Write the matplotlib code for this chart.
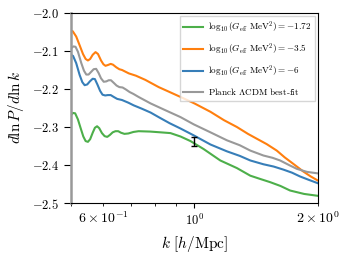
import numpy as np
import matplotlib
matplotlib.use("Agg")
import matplotlib.pyplot as plt

plt.rcParams['font.family'] = 'serif'
plt.rcParams['font.serif'] = ['cmr10']
plt.rcParams['mathtext.fontset'] = 'cm'
plt.rcParams['axes.formatter.use_mathtext'] = True

# ---------- data ----------
k_green = [0.5, 0.506, 0.512, 0.52, 0.528, 0.536, 0.543, 0.550, 0.557, 0.565, 0.572, 0.579,
           0.586, 0.595, 0.604, 0.613, 0.622, 0.632, 0.642, 0.652, 0.662, 0.675, 0.69, 0.71,
           0.731, 0.78, 0.827, 0.874, 0.925, 0.978, 1.053, 1.156, 1.269, 1.368, 1.45, 1.529,
           1.62, 1.71, 1.85, 2.0]
dlnp_green = [-2.269, -2.263, -2.264, -2.280, -2.303, -2.325, -2.337, -2.339, -2.332, -2.315, -2.302, -2.298,
              -2.303, -2.316, -2.324, -2.326, -2.321, -2.314, -2.311, -2.311, -2.315, -2.318, -2.317, -2.313,
              -2.311, -2.312, -2.314, -2.316, -2.325, -2.337, -2.358, -2.388, -2.408, -2.428, -2.437, -2.445,
              -2.455, -2.467, -2.476, -2.481]

k_orange = [0.5, 0.505, 0.515, 0.525, 0.535, 0.543, 0.550, 0.557, 0.565, 0.574, 0.582, 0.592,
            0.600, 0.607, 0.615, 0.625, 0.633, 0.645, 0.656, 0.666, 0.692, 0.72, 0.759, 0.818,
            0.87, 0.925, 1.0, 1.094, 1.18, 1.269, 1.35, 1.42, 1.5, 1.587, 1.66, 1.742, 1.842,
            1.92, 2.0]
dlnp_orange = [-2.047, -2.048, -2.062, -2.085, -2.108, -2.121, -2.125, -2.121, -2.110, -2.103, -2.108, -2.125,
               -2.135, -2.139, -2.137, -2.134, -2.136, -2.143, -2.148, -2.150, -2.159, -2.165, -2.176, -2.195,
               -2.208, -2.221, -2.238, -2.260, -2.282, -2.300, -2.318, -2.331, -2.345, -2.362, -2.380, -2.397,
               -2.417, -2.430, -2.441]

k_blue = [0.5, 0.506, 0.515, 0.525, 0.533, 0.540, 0.548, 0.556, 0.565, 0.572, 0.580, 0.589,
          0.597, 0.606, 0.615, 0.625, 0.636, 0.648, 0.666, 0.69, 0.711, 0.745, 0.782, 0.818,
          0.87, 0.925, 0.996, 1.094, 1.2, 1.29, 1.368, 1.473, 1.56, 1.647, 1.728, 1.808, 1.9, 2.0]
dlnp_blue = [-2.110, -2.113, -2.132, -2.163, -2.182, -2.190, -2.188, -2.180, -2.173, -2.174, -2.188, -2.205,
             -2.215, -2.217, -2.216, -2.216, -2.221, -2.226, -2.229, -2.236, -2.243, -2.252, -2.262, -2.274,
             -2.290, -2.304, -2.322, -2.346, -2.364, -2.376, -2.388, -2.398, -2.404, -2.412, -2.420, -2.430,
             -2.439, -2.448]

k_gray = [0.5, 0.507, 0.513, 0.52, 0.53, 0.538, 0.545, 0.552, 0.560, 0.568, 0.576, 0.584,
          0.592, 0.601, 0.610, 0.618, 0.626, 0.636, 0.646, 0.656, 0.668, 0.68, 0.695, 0.71,
          0.731, 0.782, 0.85, 0.925, 0.996, 1.094, 1.2, 1.29, 1.368, 1.473, 1.55, 1.617, 1.70,
          1.776, 1.88, 2.0]
dlnp_gray = [-2.093, -2.088, -2.089, -2.102, -2.132, -2.152, -2.162, -2.162, -2.155, -2.148, -2.147, -2.158,
             -2.172, -2.181, -2.180, -2.177, -2.177, -2.184, -2.191, -2.195, -2.196, -2.201, -2.208, -2.213,
             -2.221, -2.238, -2.256, -2.274, -2.293, -2.314, -2.335, -2.348, -2.362, -2.375, -2.381, -2.388,
             -2.400, -2.410, -2.418, -2.422]

k_data = [1.0]
dlnp_data = [-2.338]
dlnp_err = [0.012]

labels = [r'$\log_{10}(G_{\rm eff}\ {\rm MeV}^2) = -1.72$',
          r'$\log_{10}(G_{\rm eff}\ {\rm MeV}^2) = -3.5$',
          r'$\log_{10}(G_{\rm eff}\ {\rm MeV}^2) = -6$',
          r'Planck $\Lambda$CDM best-fit']

# ---------- plot ----------
fig = plt.figure(figsize=(3.46, 2.59), dpi=100)
ax = fig.add_axes([0.205, 0.216, 0.714, 0.734])

ax.plot(k_green, dlnp_green, color='#4daf4a', lw=1.5, label=labels[0])
ax.plot(k_orange, dlnp_orange, color='#ff7f0e', lw=1.5, label=labels[1])
ax.plot(k_blue, dlnp_blue, color='#377eb8', lw=1.5, label=labels[2])
ax.plot(k_gray, dlnp_gray, color='#999999', lw=1.5, label=labels[3])
ax.errorbar(k_data, dlnp_data, yerr=dlnp_err, fmt='none', ecolor='k', elinewidth=1, capsize=2)

ax.set_xscale('log')
ax.set_xlim(0.5, 2.0)
ax.set_ylim(-2.5, -2.0)
ax.set_yticks(np.arange(-2.5, -1.99, 0.1))
ax.spines['left'].set_color('#999999')
ax.spines['left'].set_linewidth(1.8)
ax.tick_params(labelsize=9, direction='out')
ax.tick_params(axis='y', length=5)
ax.set_xlabel(r'$k\ [h/{\rm Mpc}]$', fontsize=11)
ax.set_ylabel(r'$d\ln P/d\ln k$', fontsize=11)
ax.legend(loc='upper right', fontsize=6.6, fancybox=False, edgecolor='#cccccc',
          borderaxespad=0.3, handlelength=2.1, labelspacing=0.75, handletextpad=0.6)

fig.savefig('out.png', dpi=100)
